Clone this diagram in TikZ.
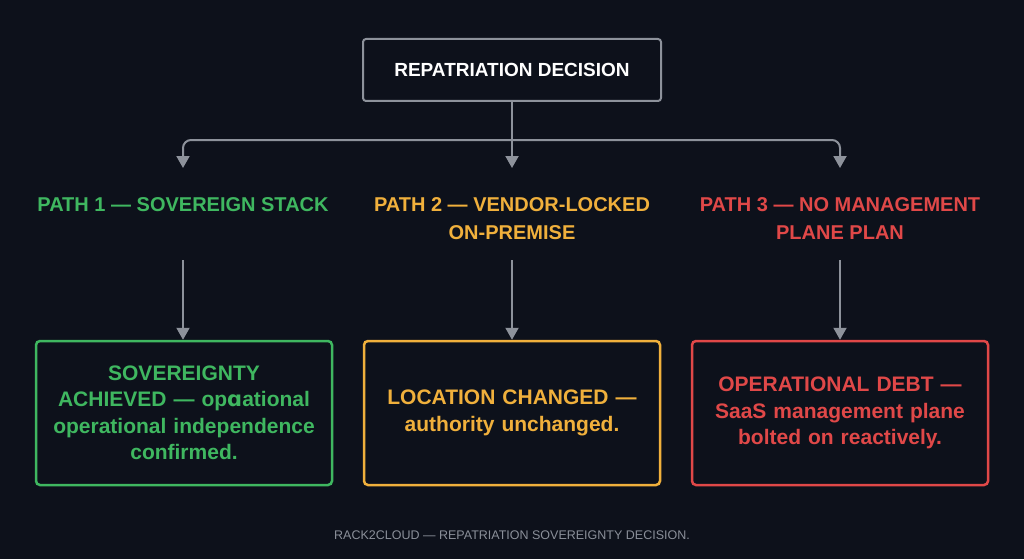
\documentclass[tikz,border=0pt]{standalone}
\usepackage{fontspec}
\setmainfont{Liberation Sans}
\newfontfamily\dvfont{DejaVu Sans}
\usetikzlibrary{arrows.meta}
\definecolor{bgnavy}{HTML}{0D111B}
\definecolor{linegray}{HTML}{8D929B}
\definecolor{pathgreen}{HTML}{3FB760}
\definecolor{pathorange}{HTML}{F0B03C}
\definecolor{pathred}{HTML}{E04848}
\definecolor{footgray}{HTML}{8A8F99}
\tikzset{
  conn/.style={draw=linegray, line width=2pt, -{Triangle[length=12pt,width=13pt]}},
  outcome/.style={draw=#1, line width=2.5pt, rounded corners=4pt, minimum width=296pt, minimum height=144pt, text=#1, align=center, font=\fontsize{21}{26.5}\selectfont\bfseries, text width=285pt},
  pathlbl/.style={text=#1, align=center, font=\fontsize{20}{28}\selectfont\bfseries}
}
\begin{document}
\begin{tikzpicture}[x=1pt,y=-1pt]
  \fill[bgnavy] (0,0) rectangle (1024,559);
  \useasboundingbox (0,0) rectangle (1024,559);

  \node[draw=linegray, line width=2pt, rounded corners=3pt, minimum width=298pt, minimum height=62pt, text=white, font=\fontsize{19}{23}\selectfont\bfseries] (decision) at (512,70) {REPATRIATION DECISION};

  \coordinate (split) at (512,140);
  \coordinate (left) at (183,168);
  \coordinate (mid) at (512,168);
  \coordinate (right) at (840,168);
  \draw[linegray, line width=2pt] (decision.south) -- (split);
  \draw[conn, rounded corners=8pt] (split) -| (left);
  \draw[conn, rounded corners=8pt] (split) -| (right);
  \draw[conn] (split) -- (mid);

  \node[pathlbl=pathgreen] (path1) at (183,205) {PATH 1 — SOVEREIGN STACK};
  \node[pathlbl=pathorange] (path2) at (512,219) {PATH 2 — VENDOR-LOCKED\\ON-PREMISE};
  \node[pathlbl=pathred] (path3) at (840,219) {PATH 3 — NO MANAGEMENT\\PLANE PLAN};

  \node[outcome=pathgreen] (out1) at (184,413) {SOVEREIGNTY\\ACHIEVED — op{\dvfont\bfseries ɑ}ational\\operational independence\\confirmed.};
  \node[outcome=pathorange] (out2) at (512,413) {LOCATION CHANGED —\\authority unchanged.};
  \node[outcome=pathred] (out3) at (840,413) {OPERATIONAL DEBT —\\SaaS management plane\\bolted on reactively.};

  \coordinate (a1) at (183,260);
  \coordinate (a2) at (512,260);
  \coordinate (a3) at (840,260);
  \draw[conn] (a1) -- (out1.north -| a1);
  \draw[conn] (a2) -- (out2.north);
  \draw[conn] (a3) -- (out3.north);

  \node[text=footgray, font=\fontsize{12.5}{15}\selectfont] (footer) at (512,535) {RACK2CLOUD — REPATRIATION SOVEREIGNTY DECISION.};
\end{tikzpicture}
\end{document}
